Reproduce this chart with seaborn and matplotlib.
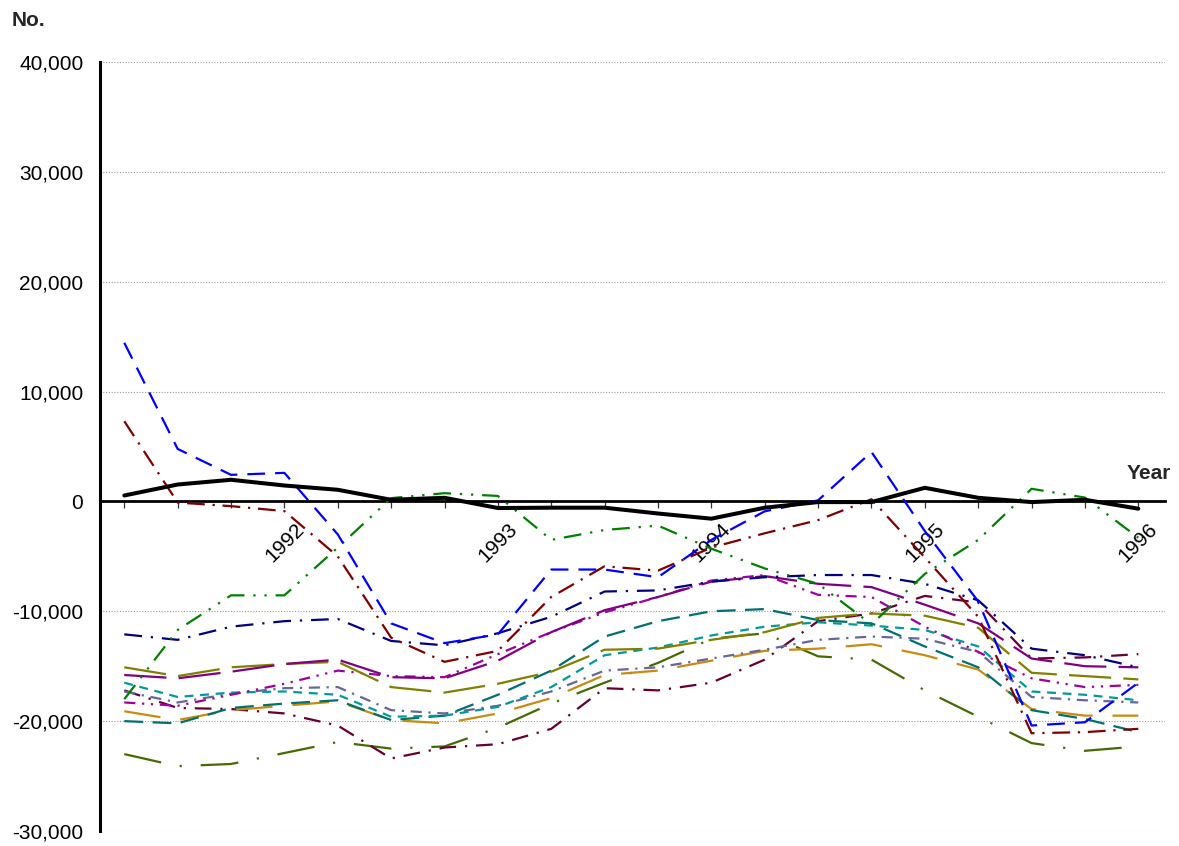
import numpy as np
import pandas as pd
import matplotlib
matplotlib.use("Agg")
import matplotlib.pyplot as plt
from matplotlib.ticker import FixedLocator, FuncFormatter
import seaborn as sns

# Quarterly periods shown on the horizontal axis
QUARTERS = [
    "1991Q2", "1991Q3", "1991Q4",
    "1992Q1", "1992Q2", "1992Q3", "1992Q4",
    "1993Q1", "1993Q2", "1993Q3", "1993Q4",
    "1994Q1", "1994Q2", "1994Q3", "1994Q4",
    "1995Q1", "1995Q2", "1995Q3", "1995Q4",
    "1996Q1",
]

# Net change per quarter (No.)
total = [540, 1540, 1970, 1450, 1060, 150, 330, -600, -570, -570,
         -1100, -1570, -570, -60, -60, 1240, 330, -60, 150, -660]
blue_series = [14440, 4780, 2420, 2600, -3000, -11100, -12900, -12100, -6200, -6200,
               -6900, -3500, -900, 100, 4500, -2700, -9100, -20400, -20100, -16500]
darkred_series = [7300, -100, -430, -880, -5000, -12400, -14600, -13600, -8700, -5900,
                  -6300, -4200, -2900, -1700, 200, -5100, -10500, -21100, -21000, -20700]
green_series = [-18000, -11700, -8550, -8550, -4200, 300, 750, 500, -3500, -2600,
                -2200, -4300, -6100, -7500, -11200, -6600, -3500, 1150, 350, -3300]
navy_series = [-12100, -12600, -11400, -10900, -10700, -12700, -13100, -12000, -10500, -8200,
               -8100, -7300, -6900, -6700, -6700, -7500, -9000, -13400, -14000, -15100]
purple_series = [-15800, -16100, -15500, -14800, -14400, -16000, -16100, -14500, -11900, -9900,
                 -8700, -7300, -6800, -7500, -7800, -9400, -11100, -14300, -15000, -15100]
olive_series = [-15100, -15900, -15100, -14800, -14600, -16900, -17400, -16600, -15500, -13500,
                -13400, -12600, -11900, -10600, -10200, -10400, -11500, -15600, -15900, -16200]
magenta_series = [-18300, -18600, -17600, -16600, -15400, -15900, -16000, -13900, -11900, -10100,
                  -8700, -7200, -6700, -8500, -8700, -11400, -13700, -16100, -16900, -16700]
teal_light_series = [-16500, -17800, -17400, -17300, -17600, -19600, -19500, -18700, -16900, -14000,
                     -13300, -12200, -11400, -11000, -11300, -11700, -13200, -17300, -17600, -18100]
teal_dark_series = [-20000, -20200, -18800, -18400, -18100, -19900, -19500, -17600, -15400, -12300,
                    -10900, -10000, -9800, -10800, -11100, -13200, -15100, -19000, -19800, -21000]
greyblue_series = [-17300, -18300, -17500, -17000, -16900, -19000, -19300, -18600, -17300, -15400,
                   -15100, -14300, -13500, -12600, -12300, -12500, -13700, -17800, -18100, -18300]
orange_series = [-19100, -19900, -19000, -18600, -18200, -19900, -20200, -19300, -17900, -15800,
                 -15400, -14500, -13600, -13400, -13000, -14000, -15300, -18900, -19500, -19500]
darkgreen_series = [-23000, -24100, -23900, -22900, -21900, -22500, -22300, -20600, -18400, -16500,
                    -14700, -12500, -12000, -14100, -14400, -17200, -19600, -22000, -22700, -22300]
maroon_series = [-17200, -18800, -18900, -19300, -20400, -23400, -22400, -22100, -20700, -17000,
                 -17200, -16500, -14400, -10900, -10200, -8600, -9200, -14300, -14200, -13900]

Y_TICKS = [-30000, -20000, -10000, 0, 10000, 20000, 30000, 40000]

# name, values, colour, line width, dash pattern (in line-width units)
STYLES = [
    ("darkgreen", darkgreen_series, "#456b00", 1.6, (0, (17, 8.5, 1, 8.5))),
    ("maroon", maroon_series, "#660033", 1.6, (0, (7.5, 4, 1, 4))),
    ("orange", orange_series, "#c88a10", 1.6, (0, (16.5, 9))),
    ("teal_dark", teal_dark_series, "#007070", 1.6, (0, (8.5, 4.2))),
    ("greyblue", greyblue_series, "#666699", 1.6, (0, (5, 3, 1, 3))),
    ("teal_light", teal_light_series, "#009a9a", 1.6, (0, (4, 3))),
    ("magenta", magenta_series, "#a000a0", 1.6, (0, (5, 3, 1, 3, 1, 3))),
    ("olive", olive_series, "#808000", 1.6, (0, (19, 5.5))),
    ("purple", purple_series, "#800080", 1.6, (0, (19, 5.5))),
    ("navy", navy_series, "#000080", 1.6, (0, (8, 4, 1, 4))),
    ("green", green_series, "#008000", 1.6, (0, (8, 4, 1, 4, 1, 4))),
    ("darkred", darkred_series, "#800000", 1.6, (0, (8, 3.5, 1, 3.5))),
    ("blue", blue_series, "#0000ff", 1.6, (0, (8, 4.5))),
    ("total", total, "#000000", 2.9, "-"),
]

sns.set_theme(style="white")
plt.rcParams["font.family"] = ["Liberation Sans", "DejaVu Sans"]
plt.rcParams["axes.unicode_minus"] = False

W, H = 1179, 846
fig = plt.figure(figsize=(W / 100, H / 100), dpi=100)
ax = fig.add_axes([100 / W, (H - 831) / H, (1165 - 100) / W, (831 - 62) / H])

pos = np.arange(len(QUARTERS))
for i, (name, vals, color, lw, ls) in enumerate(STYLES):
    df = pd.DataFrame({"pos": pos, "value": vals})
    sns.lineplot(data=df, x="pos", y="value", color=color, linewidth=lw,
                 linestyle=ls, estimator=None, errorbar=None, legend=False,
                 ax=ax, zorder=3 + i)

ax.set_xlim(-0.455, 19.5)
ax.set_ylim(-30000, 40000)
ax.set_xlabel("")
ax.set_ylabel("")

# y axis: comma-formatted labels, no tick marks, dotted grid
ax.yaxis.set_major_locator(FixedLocator(Y_TICKS))
ax.yaxis.set_major_formatter(FuncFormatter(lambda v, p: f"{int(v):,}"))
ax.tick_params(axis="y", length=0, pad=12, labelsize=15, labelcolor="black")
ax.yaxis.grid(True, linestyle=(0, (1, 1.5)), color="#999999", linewidth=0.8)
ax.xaxis.grid(False)
ax.set_axisbelow(True)

# x axis drawn through zero, a tick per quarter, year labels at Q1
ax.xaxis.set_major_locator(FixedLocator(pos))
xlabels = [q[:4] if q.endswith("Q1") else "" for q in QUARTERS]
ax.set_xticklabels(xlabels)
ax.tick_params(axis="x", direction="out", length=5, width=0.9, color="#333333",
               pad=8, labelsize=15, labelrotation=45, labelcolor="black", bottom=True)

for side in ("top", "right"):
    ax.spines[side].set_visible(False)
ax.spines["left"].set_color("black")
ax.spines["left"].set_linewidth(2.2)
ax.spines["bottom"].set_position(("data", 0))
ax.spines["bottom"].set_color("black")
ax.spines["bottom"].set_linewidth(2.0)
ax.spines["bottom"].set_zorder(2.5)

fig.text(28 / W, 1 - 20 / H, "No.", ha="center", va="center",
         fontsize=15, fontweight="bold")
fig.text(1149 / W, 1 - 473 / H, "Year", ha="center", va="center",
         fontsize=15, fontweight="bold")

fig.savefig("out.png", dpi=100)
